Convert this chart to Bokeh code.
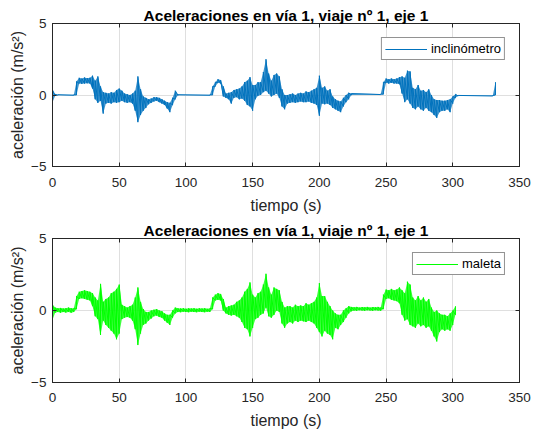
import numpy as np
from bokeh.plotting import figure
from bokeh.layouts import column
from bokeh.models import Range1d, FixedTicker, LinearAxis, Legend, LegendItem
from bokeh.embed import file_html
from bokeh.resources import INLINE

TITLE = "Aceleraciones en vía 1, viaje nº 1, eje 1"
X_LABEL = "tiempo (s)"
Y_LABEL = "aceleración (m/s²)"
X_TICKS = [0, 50, 100, 150, 200, 250, 300, 350]
Y_TICKS = [-5, 0, 5]

# inclinómetro: envelope (min / max) of the signal read at each time
incl_t = [0, 2, 4, 16, 18, 20, 22, 24, 26, 28, 30, 32, 34, 36, 38, 40, 42, 44, 46, 48,
          50, 52, 54, 56, 58, 60, 62, 64, 66, 68, 70, 72, 74, 76, 78, 80, 82, 84, 86, 88,
          90, 92, 94, 118, 120, 122, 124, 126, 128, 130, 132, 134, 136, 138, 140, 142, 144, 146, 148,
          150, 152, 154, 156, 158, 160, 162, 164, 166, 168, 170, 172, 174, 176, 178, 180, 182, 184, 186, 188,
          190, 192, 194, 196, 198, 200, 202, 204, 206, 208, 210, 212, 214, 216, 218, 220, 222, 224, 246,
          248, 250, 252, 254, 256, 258, 260, 262, 264, 266, 268, 270, 272, 274, 276, 278, 280, 282, 284, 286,
          288, 290, 292, 294, 296, 298, 300, 302, 304, 330, 332]
incl_lo = [-0.5, -0.05, -0.02, -0.02, 0.0, 0.8, 0.78, 0.8, 0.82, 0.8, 0.45, -0.3, -0.55, -0.4, -1.3, -0.6, -0.55, -0.6, -0.5, -0.55,
           -0.5, -0.4, -0.5, -0.55, -0.5, -0.6, -1.1, -1.9, -1.4, -1.1, -0.9, -0.65, -0.55, -0.45, -0.4, -0.5, -0.6, -0.7, -0.95, -1.2,
           -0.7, -0.3, -0.02, -0.02, 0.0, 0.6, 0.85, 0.8, -0.1, -0.2, -0.3, -0.6, -0.2, -0.15, -0.3, -0.25, -0.4, -0.7, -0.8,
           -1.1, -0.3, -0.05, 0.0, 0.2, 0.3, 0.1, -0.1, 0.0, 0.1, -0.2, -0.8, -1.0, -0.6, -0.55, -0.5, -0.55, -0.5, -0.45, -0.5,
           -0.5, -0.45, -0.55, -0.6, -0.7, -1.45, -0.6, -0.65, -0.6, -0.7, -0.9, -1.0, -1.1, -1.2, -0.8, -0.5, -0.3, 0.0, 0.03,
           0.05, 0.85, 0.8, 0.85, 0.8, 0.8, 0.75, 0.1, -0.5, -0.3, -0.6, -0.9, -1.0, -0.8, -1.0, -1.1, -0.9, -1.1, -1.2, -1.4,
           -1.6, -1.2, -1.1, -1.1, -1.0, -1.2, -0.6, -0.2, -0.07, -0.07, 0.0]
incl_hi = [0.35, 0.05, 0.02, 0.02, 0.95, 1.2, 1.15, 1.22, 1.18, 1.2, 1.35, 1.0, 1.3, 0.6, 0.2, 0.15, 0.1, 0.2, 0.15, 0.35,
           0.45, 0.3, 0.1, 0.05, 0.0, 0.1, 0.3, 1.3, 0.4, -0.1, -0.2, -0.3, -0.25, -0.15, -0.15, -0.2, -0.3, -0.4, -0.5, -0.55,
           -0.2, 0.3, 0.02, 0.02, 0.6, 0.9, 1.1, 1.05, 0.6, 0.1, 0.15, 0.2, 0.35, 0.4, 0.45, 0.6, 0.9, 1.0, 1.25,
           0.7, 0.7, 0.9, 0.9, 1.6, 2.5, 1.5, 1.0, 1.4, 1.5, 1.3, 0.4, 0.0, 0.0, 0.05, 0.1, 0.0, 0.1, 0.15, 0.1,
           0.25, 0.2, 0.3, 0.4, 0.5, 1.35, 0.5, 0.6, 0.3, 0.4, -0.1, -0.3, -0.4, -0.45, -0.2, 0.0, 0.15, 0.1, 0.07,
           0.9, 1.15, 1.1, 1.15, 1.1, 1.15, 1.25, 1.3, 1.2, 1.7, 1.65, 0.5, 0.4, 0.7, 0.3, 0.35, 0.2, 0.4, 0.0, -0.3,
           -0.35, -0.35, -0.4, -0.4, -0.35, -0.3, -0.1, 0.05, -0.03, -0.03, 0.9]

# maleta: envelope (min / max) every 2 s
mal_t = list(range(0, 304, 2))
mal_lo = [-0.65, -0.15, -0.1, -0.15, -0.1, -0.14, -0.1, -0.15, -0.1, 0.1,
          0.8, 0.85, 0.8, 0.75, 0.7, 0.3, -0.4, -0.6, -1.7, -0.7,
          -1.0, -1.2, -1.4, -1.6, -2.0, -1.6, -0.6, -0.5, -0.45, -0.5,
          -0.7, -1.3, -2.4, -1.6, -1.0, -0.9, -0.7, -0.55, -0.4, -0.35,
          -0.45, -0.5, -0.7, -0.85, -1.0, -0.5, -0.2, -0.1, -0.12, -0.08,
          -0.1, -0.12, -0.08, -0.1, -0.12, -0.08, -0.1, -0.12, -0.08, -0.1,
          0.1, 0.7, 0.75, 0.7, 0.0, -0.2, -0.3, -0.35, -0.3, -0.4,
          -0.5, -0.8, -1.2, -1.3, -1.8, -1.2, -0.6, -0.5, -0.3, -0.2,
          0.2, -0.4, -0.5, -0.3, 0.0, -0.1, -0.9, -1.2, -0.9, -0.8,
          -0.9, -0.7, -0.8, -0.7, -0.75, -0.8, -0.7, -0.8, -0.9, -1.2,
          -1.5, -1.8, -1.4, -1.6, -1.7, -2.0, -1.2, -1.3, -1.0, -0.8,
          -0.5, -0.2, -0.05, 0.0, -0.02, 0.02, 0.0, -0.02, 0.02, 0.0,
          -0.02, 0.02, 0.0, -0.02, 0.1, 0.8, 0.85, 0.75, 0.7, 0.65,
          0.5, -0.3, -0.7, -0.6, -1.0, -1.1, -1.2, -0.9, -1.1, -1.0,
          -1.2, -1.1, -1.4, -1.8, -2.15, -1.5, -1.3, -1.4, -1.3, -1.4,
          -1.0, -0.3]
mal_hi = [0.4, 0.2, 0.15, 0.18, 0.14, 0.16, 0.2, 0.15, 0.16, 1.0,
          1.3, 1.35, 1.4, 1.35, 1.3, 1.2, 0.9, 0.7, 1.85, 0.6,
          0.8, 0.9, 1.2, 1.3, 1.5, 1.8, 0.4, 0.3, 0.2, 0.3,
          0.4, 0.9, 1.6, 0.6, 0.1, -0.1, -0.1, 0.0, 0.05, 0.1,
          0.0, -0.05, -0.2, -0.3, -0.3, 0.0, 0.2, 0.15, 0.14, 0.16,
          0.12, 0.15, 0.14, 0.16, 0.12, 0.15, 0.14, 0.16, 0.12, 0.15,
          0.9, 1.1, 1.2, 1.15, 0.8, 0.2, 0.3, 0.35, 0.4, 0.6,
          0.7, 0.9, 1.3, 1.5, 1.95, 1.1, 0.9, 1.2, 1.3, 1.8,
          2.55, 1.6, 1.1, 1.6, 1.5, 1.4, 0.6, 0.2, 0.3, 0.3,
          0.2, 0.4, 0.3, 0.35, 0.3, 0.5, 0.4, 0.5, 0.6, 0.9,
          1.9, 1.0, 1.0, 0.6, 0.3, 0.0, -0.2, -0.3, -0.3, 0.0,
          0.15, 0.3, 0.25, 0.22, 0.25, 0.2, 0.24, 0.22, 0.25, 0.2,
          0.24, 0.22, 0.25, 0.2, 1.1, 1.45, 1.4, 1.5, 1.4, 1.45,
          1.6, 1.4, 1.2, 2.0, 1.8, 0.9, 0.7, 1.0, 0.7, 0.9,
          0.6, 0.8, 0.2, -0.1, 0.0, -0.2, -0.3, -0.3, -0.4, -0.2,
          0.0, 0.3]

assert len(incl_t) == len(incl_lo) == len(incl_hi)
assert len(mal_t) == len(mal_lo) == len(mal_hi)

SERIES = [
    ("inclinómetro", "#0072BD", incl_t, incl_lo, incl_hi),
    ("maleta", "#00FF00", mal_t, mal_lo, mal_hi),
]

FONT = "Liberation Sans"
DARK = "#262626"
GRID = "#dfdfdf"


def zigzag(t, lo, hi):
    xs = np.repeat(np.asarray(t, dtype=float), 2)
    ys = np.empty(2 * len(t))
    ys[0::2] = lo
    ys[1::2] = hi
    return xs, ys


def make_plot(name, color, t, lo, hi, height, b_top, b_bottom, lab_stand, ax_stand):
    p = figure(width=533, height=height, x_range=Range1d(0, 350), y_range=Range1d(-5, 5),
               output_backend="svg", toolbar_location=None,
               min_border_left=52, min_border_right=14,
               min_border_top=b_top, min_border_bottom=b_bottom,
               background_fill_color="white", border_fill_color="white")
    p.outline_line_color = DARK
    p.outline_line_width = 1
    p.outline_line_alpha = 1

    p.title.text = TITLE
    p.title.text_font = FONT
    p.title.text_font_size = "15.5px"
    p.title.text_font_style = "bold"
    p.title.text_color = "#000000"
    p.title.align = "center"
    p.title.standoff = 0
    p.title.offset = 0

    p.varea(x=t, y1=lo, y2=hi, fill_color=color, fill_alpha=0.75)
    xs, ys = zigzag(t, lo, hi)
    r = p.line(xs, ys, line_color=color, line_width=1)

    for ax in (p.xaxis[0], p.yaxis[0]):
        ax.axis_line_color = DARK
        ax.major_tick_line_color = DARK
        ax.major_tick_in = 4
        ax.major_tick_out = 0
        ax.minor_tick_line_color = None
        ax.major_label_text_font = FONT
        ax.major_label_text_font_size = "13.5px"
        ax.major_label_text_color = DARK
        ax.axis_label_text_font = FONT
        ax.axis_label_text_font_size = "16px"
        ax.axis_label_text_font_style = "normal"
        ax.axis_label_text_color = DARK

    p.xaxis[0].ticker = FixedTicker(ticks=X_TICKS)
    p.yaxis[0].ticker = FixedTicker(ticks=Y_TICKS)
    p.xaxis[0].axis_label = X_LABEL
    p.yaxis[0].axis_label = Y_LABEL
    p.xaxis[0].major_label_standoff = lab_stand
    p.xaxis[0].axis_label_standoff = ax_stand
    p.yaxis[0].major_label_standoff = 6
    p.yaxis[0].axis_label_standoff = 2

    for ticks, loc in ((X_TICKS, "above"), (Y_TICKS, "right")):
        ax = LinearAxis(ticker=FixedTicker(ticks=ticks))
        ax.axis_line_color = DARK
        ax.major_tick_line_color = DARK
        ax.major_tick_in = 4
        ax.major_tick_out = 0
        ax.minor_tick_line_color = None
        ax.major_label_text_font_size = "0px"
        ax.major_label_standoff = 0
        p.add_layout(ax, loc)

    p.xgrid.ticker = FixedTicker(ticks=X_TICKS)
    p.ygrid.ticker = FixedTicker(ticks=Y_TICKS)
    p.xgrid.grid_line_color = GRID
    p.ygrid.grid_line_color = GRID

    legend = Legend(items=[LegendItem(label=name, renderers=[r])],
                    location="top_right", margin=14, padding=3, spacing=0,
                    label_text_font=FONT, label_text_font_size="13px",
                    label_text_color="#000000",
                    glyph_width=42, glyph_height=14, label_height=14, label_standoff=4,
                    border_line_color=DARK, border_line_width=1,
                    background_fill_color="white", background_fill_alpha=1)
    p.add_layout(legend, "center")
    return p


p1 = make_plot(*SERIES[0], height=218, b_top=23, b_bottom=52, lab_stand=11, ax_stand=7)
p2 = make_plot(*SERIES[1], height=214, b_top=20, b_bottom=50, lab_stand=10, ax_stand=7)

layout = column(p1, p2, spacing=0)
open("out.html", "w").write(file_html(layout, INLINE))
